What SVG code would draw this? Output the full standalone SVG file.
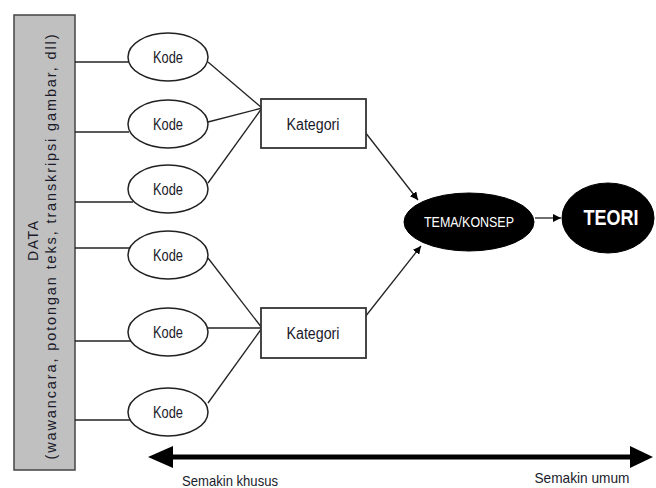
<svg xmlns="http://www.w3.org/2000/svg" width="656" height="488" viewBox="0 0 656 488">
<style>
  .lbl { font-family: "Liberation Sans", Arial, sans-serif; fill: #1a1a2a; text-anchor: middle; }
  .wlbl { font-family: "Liberation Sans", Arial, sans-serif; fill: #ffffff; text-anchor: middle; }
  .kode { fill: #ffffff; stroke: #222; stroke-width: 1.5; }
  .box { fill: #ffffff; stroke: #333; stroke-width: 1.8; }
  .dark { fill: #000000; stroke: #000; stroke-width: 1; }
  .ln { stroke: #222; stroke-width: 1.3; fill: none; }
  .arr { stroke: #222; stroke-width: 1.3; fill: none; marker-end: url(#ah); }
</style>
<defs>
  <marker id="ah" viewBox="0 0 10 10" refX="10" refY="5" markerWidth="8" markerHeight="8" markerUnits="userSpaceOnUse" orient="auto">
    <path d="M0,0 L10,5 L0,10 z" fill="#000"/>
  </marker>
</defs>
<rect width="656" height="488" fill="#ffffff"/>

<g id="data">
  <rect x="14" y="15" width="61" height="455" fill="#c0c0c0" stroke="#444" stroke-width="1.5"/>
  <text class="lbl" font-size="14" transform="translate(38,241) rotate(-90)" textLength="40" lengthAdjust="spacing">DATA</text>
  <text class="lbl" font-size="14.5" transform="translate(56,247) rotate(-90)" textLength="425" lengthAdjust="spacing">(wawancara, potongan teks, transkripsi gambar, dll)</text>
</g>

<g id="connectors">
  <line class="ln" x1="75" y1="62" x2="129" y2="62"/>
  <line class="ln" x1="75" y1="132" x2="129" y2="132"/>
  <line class="ln" x1="75" y1="202" x2="133" y2="202"/>
  <line class="ln" x1="75" y1="248" x2="130" y2="248"/>
  <line class="ln" x1="75" y1="341" x2="131" y2="341"/>
  <line class="ln" x1="75" y1="420" x2="130" y2="420"/>

  <line class="ln" x1="208" y1="62" x2="262" y2="108"/>
  <line class="ln" x1="208" y1="122" x2="262" y2="108"/>
  <line class="ln" x1="208" y1="183" x2="262" y2="108"/>
  <line class="ln" x1="208" y1="258" x2="262" y2="328"/>
  <line class="ln" x1="208" y1="328" x2="262" y2="328"/>
  <line class="ln" x1="208" y1="403" x2="262" y2="328"/>

  <line class="arr" x1="365" y1="132" x2="418" y2="200"/>
  <line class="arr" x1="365" y1="317" x2="421" y2="246"/>
  <line class="arr" x1="535" y1="218" x2="561" y2="218"/>

  <line x1="168" y1="457" x2="634" y2="457" stroke="#000" stroke-width="5"/>
  <polygon points="148,457 173,446 173,468" fill="#000"/>
  <polygon points="653,457 630,446 630,468" fill="#000"/>
</g>

<g id="kode1"><ellipse class="kode" cx="168" cy="57" rx="40" ry="24"/><text class="lbl" x="168" y="63" font-size="16" textLength="30" lengthAdjust="spacingAndGlyphs">Kode</text></g>
<g id="kode2"><ellipse class="kode" cx="168" cy="124" rx="40" ry="24"/><text class="lbl" x="168" y="130" font-size="16" textLength="30" lengthAdjust="spacingAndGlyphs">Kode</text></g>
<g id="kode3"><ellipse class="kode" cx="168" cy="189" rx="40" ry="24"/><text class="lbl" x="168" y="195" font-size="16" textLength="30" lengthAdjust="spacingAndGlyphs">Kode</text></g>
<g id="kode4"><ellipse class="kode" cx="168" cy="255" rx="40" ry="24"/><text class="lbl" x="168" y="261" font-size="16" textLength="30" lengthAdjust="spacingAndGlyphs">Kode</text></g>
<g id="kode5"><ellipse class="kode" cx="168" cy="332" rx="40" ry="24"/><text class="lbl" x="168" y="338" font-size="16" textLength="30" lengthAdjust="spacingAndGlyphs">Kode</text></g>
<g id="kode6"><ellipse class="kode" cx="168" cy="412" rx="40" ry="24"/><text class="lbl" x="168" y="418" font-size="16" textLength="30" lengthAdjust="spacingAndGlyphs">Kode</text></g>

<g id="kategori1"><rect class="box" x="261" y="99" width="105" height="49"/><text class="lbl" x="313" y="130" font-size="16" textLength="53" lengthAdjust="spacingAndGlyphs">Kategori</text></g>
<g id="kategori2"><rect class="box" x="261" y="308" width="105" height="50"/><text class="lbl" x="313" y="339" font-size="16" textLength="53" lengthAdjust="spacingAndGlyphs">Kategori</text></g>

<g id="tema"><ellipse class="dark" cx="469" cy="222" rx="65" ry="29"/><text class="wlbl" x="469" y="227" font-size="14.5" textLength="90" lengthAdjust="spacingAndGlyphs">TEMA/KONSEP</text></g>
<g id="teori"><ellipse class="dark" cx="608" cy="218" rx="46" ry="35"/><text class="wlbl" x="611" y="225" font-size="22" font-weight="bold" textLength="55" lengthAdjust="spacingAndGlyphs">TEORI</text></g>

<text class="lbl" x="230" y="486" font-size="15" textLength="96" lengthAdjust="spacingAndGlyphs">Semakin khusus</text>
<text class="lbl" x="582" y="483" font-size="15" textLength="95" lengthAdjust="spacingAndGlyphs">Semakin umum</text>
</svg>
